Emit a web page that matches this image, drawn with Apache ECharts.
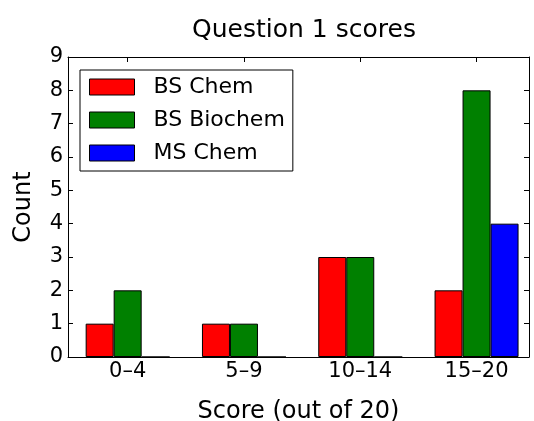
<!DOCTYPE html>
<html>
<head>
<meta charset="utf-8">
<script src="https://cdn.jsdelivr.net/npm/echarts@6/dist/echarts.min.js"></script>
<style>
html, body { margin: 0; padding: 0; background: #fff; }
#main { width: 534px; height: 421px; }
</style>
</head>
<body>
<div id="main"></div>
<script>
// data
var categories = ['0–4', '5–9', '10–14', '15–20'];
var bsChem = [1, 1, 3, 2];
var bsBiochem = [2, 1, 3, 8];
var msChem = [0, 0, 0, 4];
var yTicks = [0, 1, 2, 3, 4, 5, 6, 7, 8, 9];
var xTicks = [0, 1, 2, 3];

var font = 'DejaVu Sans';
var myChart = echarts.init(document.getElementById('main'));

// 组位置 = 类别下标
function toPoints(values) {
	return values.map(function(v, i) {
		return [xTicks[i], v];
	});
}

function barSeries(name, color, values) {
	return {
		name : name,
		type : 'bar',
		data : toPoints(values),
		barWidth : 28,
		barGap : '0%',
		itemStyle : {
			color : color,
			borderColor : '#000',
			borderWidth : 1
		},
		emphasis : { disabled : true }
	};
}

var xAxisBase = {
	type : 'value',
	min : -0.513,
	max : 3.451,
	axisLine : { show : true, onZero : false, lineStyle : { color : '#000', width : 1 } },
	axisTick : { show : true, inside : true, length : 5, customValues : xTicks, lineStyle : { color : '#000' } },
	splitLine : { show : false }
};

var yAxisBase = {
	type : 'value',
	min : yTicks[0],
	max : yTicks[yTicks.length - 1],
	interval : 1,
	axisLine : { show : true, onZero : false, lineStyle : { color : '#000', width : 1 } },
	axisTick : { show : true, inside : true, length : 5, lineStyle : { color : '#000' } },
	splitLine : { show : false }
};

var option = {
	animation : false,
	backgroundColor : '#fff',
	title : {
		text : 'Question 1 scores',
		left : 299,
		top : 13,
		textAlign : 'center',
		textStyle : { fontFamily : font, fontSize : 25, fontWeight : 'normal', color : '#000' }
	},
	legend : {
		orient : 'vertical',
		left : 80,
		top : 70,
		padding : [6, 8, 7, 9],
		itemWidth : 45,
		itemHeight : 16,
		itemGap : 11,
		borderColor : '#000',
		borderWidth : 1,
		borderRadius : 0,
		icon : 'rect',
		itemStyle : { borderColor : '#000', borderWidth : 1 },
		textStyle : { fontFamily : font, fontSize : 22, lineHeight : 22, color : '#000', padding : [0, 0, 0, 14] },
		data : ['BS Chem', 'BS Biochem', 'MS Chem']
	},
	grid : {
		left : 68,
		top : 57,
		right : 5,
		bottom : 64,
		containLabel : false,
		outerBoundsMode : 'none'
	},
	xAxis : [
		echarts.util.merge({
			position : 'bottom',
			name : 'Score (out of 20)',
			nameLocation : 'middle',
			nameGap : 43,
			nameTextStyle : { fontFamily : font, fontSize : 24, color : '#000' },
			axisLabel : {
				fontFamily : font, fontSize : 21, color : '#000', margin : 4,
				customValues : xTicks,
				formatter : function(v) { return categories[Math.round(v)]; }
			}
		}, xAxisBase, false),
		echarts.util.merge({
			position : 'top',
			axisLabel : { show : false }
		}, xAxisBase, false)
	],
	yAxis : [
		echarts.util.merge({
			position : 'left',
			name : 'Count',
			nameLocation : 'middle',
			nameGap : 32,
			nameTextStyle : { fontFamily : font, fontSize : 24, color : '#000' },
			axisLabel : { fontFamily : font, fontSize : 21, color : '#000', margin : 5 }
		}, yAxisBase, false),
		echarts.util.merge({
			position : 'right',
			axisLabel : { show : false }
		}, yAxisBase, false)
	],
	series : [
		barSeries('BS Chem', '#ff0000', bsChem),
		barSeries('BS Biochem', '#008000', bsBiochem),
		barSeries('MS Chem', '#0000ff', msChem)
	]
};

myChart.setOption(option);
</script>
</body>
</html>
